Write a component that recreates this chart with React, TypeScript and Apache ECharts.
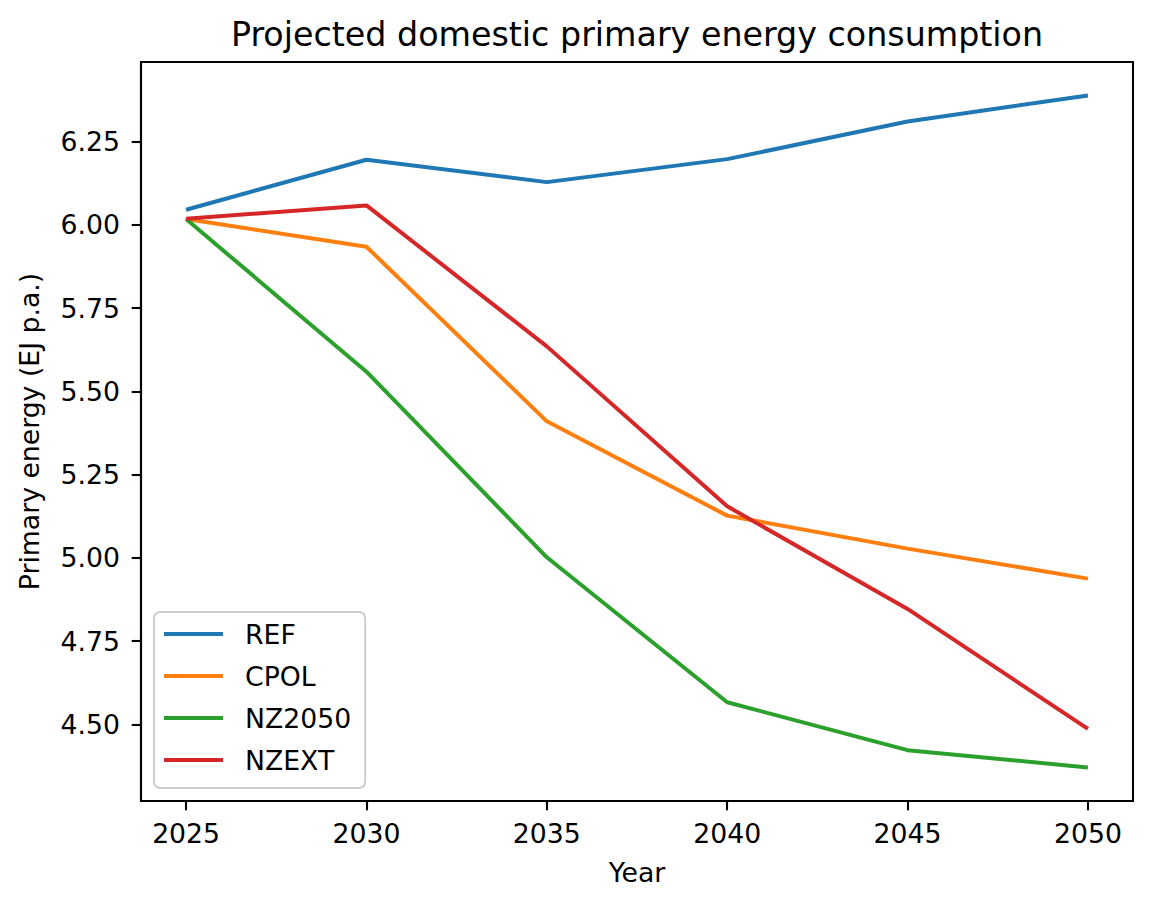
import React, { useEffect, useRef } from "react";
import * as echarts from "echarts";

const years = [2025, 2030, 2035, 2040, 2045, 2050];
const refValues = [6.045, 6.195, 6.128, 6.197, 6.31, 6.388];
const cpolValues = [6.017, 5.934, 5.41, 5.127, 5.028, 4.938];
const nz2050Values = [6.017, 5.559, 5.002, 4.567, 4.423, 4.371];
const nzextValues = [6.018, 6.058, 5.635, 5.155, 4.847, 4.487];

const seriesNames = ["REF", "CPOL", "NZ2050", "NZEXT"];
const seriesColors = ["#1f77b4", "#ff7f0e", "#2ca02c", "#d62728"];
const xTicks = [2025, 2030, 2035, 2040, 2045, 2050];
const yTicks = [4.5, 4.75, 5.0, 5.25, 5.5, 5.75, 6.0, 6.25];

const FONT = "DejaVu Sans";

export default function App() {
  const ref = useRef<HTMLDivElement>(null);

  useEffect(() => {
    if (!ref.current) return;
    const chart = echarts.init(ref.current, undefined, { renderer: "svg" });
    const allValues = [refValues, cpolValues, nz2050Values, nzextValues];
    const option = {
      animation: false,
      backgroundColor: "#ffffff",
      textStyle: { fontFamily: FONT },
      title: {
        text: "Projected domestic primary energy consumption",
        left: 632,
        top: 12.5,
        textAlign: "center",
        textStyle: {
          fontFamily: FONT,
          fontSize: 33.3,
          lineHeight: 33,
          fontWeight: "normal",
          color: "#000000",
        },
      },
      legend: {
        orient: "vertical",
        left: 154,
        top: 612,
        padding: [7, 14, 13, 10],
        itemWidth: 59,
        itemHeight: 4,
        itemGap: 12,
        icon: "rect",
        backgroundColor: "rgba(255,255,255,0.8)",
        borderColor: "#cccccc",
        borderWidth: 2,
        borderRadius: 6,
        textStyle: {
          fontFamily: FONT,
          fontSize: 26.7,
          lineHeight: 30,
          color: "#000000",
          padding: [0, 0, 0, 17],
        },
        data: seriesNames,
      },
      grid: {
        left: 141,
        right: 19,
        top: 62,
        bottom: 107,
        show: true,
        borderColor: "#000000",
        borderWidth: 2.1,
        backgroundColor: "transparent",
        containLabel: false,
      },
      xAxis: {
        type: "value",
        min: 2023.75,
        max: 2051.25,
        name: "Year",
        nameLocation: "middle",
        nameGap: 57.5,
        nameTextStyle: {
          fontFamily: FONT,
          fontSize: 26.7,
          lineHeight: 27,
          color: "#000000",
        },
        axisLine: { show: true, lineStyle: { color: "#000000", width: 2.1 } },
        axisTick: {
          show: true,
          length: 9.3,
          lineStyle: { color: "#000000", width: 2.1 },
          customValues: xTicks,
        },
        axisLabel: {
          fontFamily: FONT,
          fontSize: 26.7,
          lineHeight: 27,
          color: "#000000",
          margin: 18.5,
          customValues: xTicks,
          formatter: (v: number) => String(Math.round(v)),
        },
        splitLine: { show: false },
      },
      yAxis: {
        type: "value",
        min: 4.2705,
        max: 6.4885,
        name: "Primary energy (EJ p.a.)",
        nameLocation: "middle",
        nameGap: 98.5,
        nameTextStyle: {
          fontFamily: FONT,
          fontSize: 26.7,
          lineHeight: 27,
          color: "#000000",
        },
        axisLine: { show: true, lineStyle: { color: "#000000", width: 2.1 } },
        axisTick: {
          show: true,
          length: 9.3,
          lineStyle: { color: "#000000", width: 2.1 },
          customValues: yTicks,
        },
        axisLabel: {
          fontFamily: FONT,
          fontSize: 26.7,
          lineHeight: 27,
          color: "#000000",
          margin: 21,
          customValues: yTicks,
          formatter: (v: number) => v.toFixed(2),
        },
        splitLine: { show: false },
      },
      series: seriesNames.map((name, i) => ({
        name,
        type: "line",
        data: years.map((y, j) => [y, allValues[i][j]]),
        showSymbol: false,
        symbol: "none",
        color: seriesColors[i],
        lineStyle: { color: seriesColors[i], width: 4 },
        itemStyle: { color: seriesColors[i] },
        z: 2 + i,
      })),
    };
    chart.setOption(option as any);
    return () => {
      chart.dispose();
    };
  }, []);

  return (
    <div
      ref={ref}
      style={{ position: "fixed", left: 0, top: 0, width: 1152, height: 908 }}
    />
  );
}
